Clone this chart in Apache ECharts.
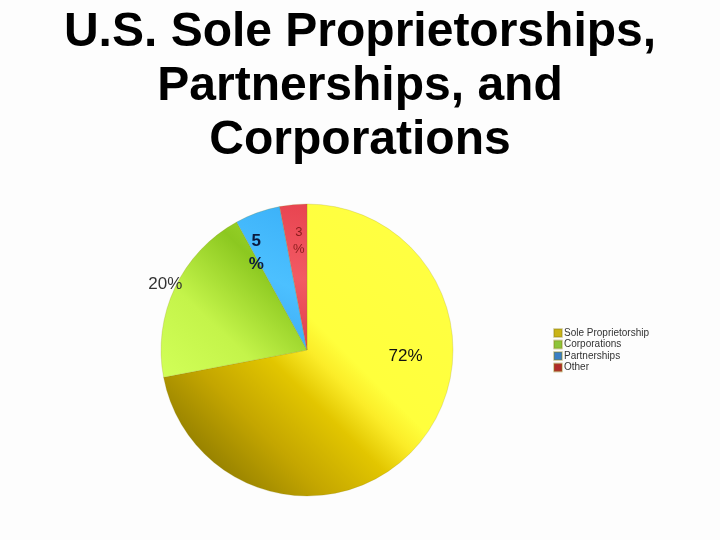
<!DOCTYPE html>
<html>
<head>
<meta charset="utf-8">
<script src="https://cdn.jsdelivr.net/npm/echarts@6/dist/echarts.min.js"></script>
<style>
  html, body { margin: 0; padding: 0; background: #fff; }
  #chart { width: 720px; height: 540px; }
</style>
</head>
<body>
<div id="chart"></div>
<script>
// 美国企业组织形式占比
const categories = ['Sole Proprietorship', 'Corporations', 'Partnerships', 'Other'];
const shares = [72, 20, 5, 3];
const labelTexts = ['72%', '20%', '5\n%', '3\n%'];
const legendColors = ['#c9b417', '#8cc43a', '#3a7fc4', '#b02a2a'];

const grad = (stops) => new echarts.graphic.LinearGradient(0, 1, 1, 0,
  stops.map(([o, c]) => ({ offset: o, color: c })));

const sliceColors = [
  grad([[0, '#6a5e00'], [0.28, '#c4a600'], [0.42, '#e2c600'], [0.5, '#fbec28'], [0.56, '#ffff3c'], [1, '#ffff44']]),
  grad([[0, '#d2ff58'], [0.35, '#c4f44a'], [0.7, '#8cc820'], [1, '#a8e038']]),
  grad([[0, '#3aa6f0'], [0.5, '#4cc0ff'], [1, '#3ab0f8']]),
  grad([[0, '#e03c48'], [0.5, '#f25a64'], [1, '#e84450']])
];
const labelStyles = [
  { fontSize: 17, color: '#111', fontWeight: 'normal', lineHeight: 20 },
  { fontSize: 17, color: '#333', fontWeight: 'normal', lineHeight: 20 },
  { fontSize: 17, color: '#0b1a3e', fontWeight: 'bold', lineHeight: 23 },
  { fontSize: 13, color: '#8a1c1c', fontWeight: 'normal', lineHeight: 17 }
];
// 标签相对默认内部位置的偏移
const labelShift = [[40, -42], [-73, -33], [-25, -26], [-1, -33]];

const chart = echarts.init(document.getElementById('chart'));
const option = {
  backgroundColor: '#fdfdfd',
  title: {
    text: 'U.S. Sole Proprietorships,\nPartnerships, and\nCorporations',
    left: 'center',
    top: 1,
    textStyle: {
      fontFamily: 'Liberation Sans, Arial',
      fontSize: 48,
      fontWeight: 'bold',
      color: '#000',
      lineHeight: 54
    }
  },
  legend: {
    orient: 'vertical',
    left: 553,
    top: 328,
    padding: 0,
    itemWidth: 8,
    itemHeight: 8,
    itemGap: 1.5,
    icon: 'rect',
    textStyle: { fontFamily: 'Liberation Sans, Arial', fontSize: 10, color: '#333', padding: [0, 0, 0, -3] },
    data: categories.map((name, i) => ({ name, itemStyle: { color: legendColors[i] } }))
  },
  series: [
    {
      type: 'pie',
      center: [307, 350],
      radius: 146,
      startAngle: 90,
      clockwise: true,
      animation: false,
      emphasis: { disabled: true },
      labelLine: { show: false },
      labelLayout: (p) => ({ dx: labelShift[p.dataIndex][0], dy: labelShift[p.dataIndex][1] }),
      data: categories.map((name, i) => ({
        name,
        value: shares[i],
        itemStyle: { color: sliceColors[i], borderColor: 'rgba(140,130,20,0.35)', borderWidth: 0.6 },
        label: Object.assign({
          show: true,
          position: 'inside',
          formatter: labelTexts[i],
          fontFamily: 'Liberation Sans, Arial'
        }, labelStyles[i])
      }))
    }
  ]
};
chart.setOption(option);
</script>
</body>
</html>
